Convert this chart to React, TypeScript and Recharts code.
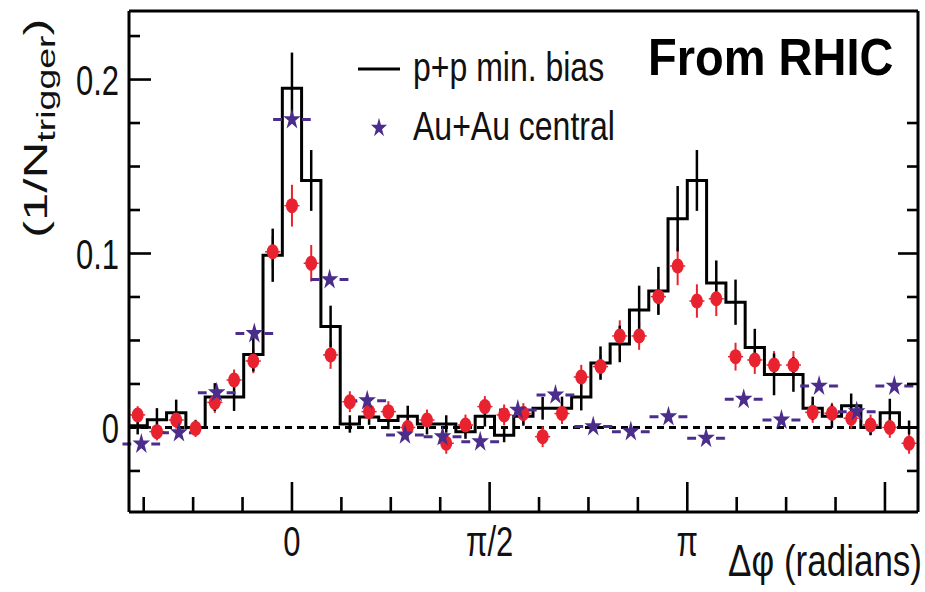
import React from 'react';
import { ComposedChart, Line, Scatter, XAxis, YAxis, ReferenceLine, ErrorBar, Legend, Symbols } from 'recharts';

const FONT = '"Liberation Sans", Arial, Helvetica, sans-serif';
const RED = '#e8232f';
const PURPLE = '#4b2d8c';

const PHI_MIN = -1.295;
const PHI_MAX = 4.975;
const Y_MIN = -0.0486;
const Y_MAX = 0.2394;

// fine binning (41 bins over 2pi), used by p+p and the red points
const ppPhi = [-1.226, -1.073, -0.920, -0.766, -0.613, -0.460, -0.307, -0.153, 0, 0.153, 0.307, 0.460, 0.613, 0.766, 0.920, 1.073, 1.226, 1.379, 1.533, 1.686, 1.839, 1.992, 2.146, 2.299, 2.452, 2.605, 2.759, 2.912, 3.065, 3.218, 3.372, 3.525, 3.678, 3.831, 3.985, 4.138, 4.291, 4.444, 4.598, 4.751, 4.904];
const ppVal = [0.001, 0.0045, 0.0085, 0.0, 0.0175, 0.0175, 0.042, 0.099, 0.195, 0.142, 0.058, 0.002, 0.006, 0.004, 0.0065, 0.002, 0.002, -0.0025, 0.0065, -0.0045, 0.0065, 0.011, 0.011, 0.0175, 0.037, 0.048, 0.0675, 0.0785, 0.120, 0.142, 0.083, 0.072, 0.046, 0.0305, 0.0305, 0.011, 0.0065, 0.0125, 0.0, 0.0085, 0.0];
const ppErr = [0.005, 0.0066, 0.0075, 0.004, 0.008, 0.008, 0.0098, 0.0153, 0.0205, 0.0175, 0.012, 0.005, 0.0045, 0.005, 0.006, 0.006, 0.005, 0.004, 0.006, 0.004, 0.0055, 0.0065, 0.0067, 0.0077, 0.0096, 0.0105, 0.014, 0.0138, 0.0188, 0.0175, 0.013, 0.013, 0.0107, 0.012, 0.01, 0.0067, 0.0067, 0.007, 0.0043, 0.008, 0.004];

const redVal = [0.0072, -0.0024, 0.0043, -0.0005, 0.0144, 0.0273, 0.0382, 0.101, 0.1275, 0.0944, 0.0417, 0.0148, 0.0091, 0.0091, 0.0, 0.0043, -0.0091, 0.0014, 0.012, 0.0072, 0.008, -0.0053, 0.008, 0.029, 0.035, 0.0526, 0.0526, 0.0752, 0.0928, 0.0727, 0.074, 0.0407, 0.0388, 0.0359, 0.0359, 0.0087, 0.0082, 0.0053, 0.0014, 0.0, -0.0091];
const redErr = [0.005, 0.005, 0.005, 0.005, 0.006, 0.006, 0.007, 0.009, 0.012, 0.0105, 0.008, 0.006, 0.006, 0.006, 0.006, 0.006, 0.006, 0.006, 0.006, 0.006, 0.006, 0.006, 0.006, 0.007, 0.007, 0.009, 0.008, 0.01, 0.011, 0.0096, 0.01, 0.008, 0.008, 0.008, 0.008, 0.006, 0.006, 0.006, 0.006, 0.006, 0.006];
const redXerr = 0.06;

// coarse binning (21 bins over 2pi) for Au+Au
const auPhi = [-1.197, -0.898, -0.598, -0.299, 0, 0.299, 0.598, 0.898, 1.197, 1.496, 1.795, 2.094, 2.394, 2.693, 2.992, 3.291, 3.590, 3.890, 4.189, 4.488, 4.787];
const auVal = [-0.0095, -0.003, 0.020, 0.054, 0.177, 0.085, 0.0154, -0.0043, -0.0053, -0.0082, 0.010, 0.0187, 0.0005, -0.0024, 0.0062, -0.0062, 0.0162, 0.0043, 0.0238, 0.0091, 0.0238];
const auXerr = 0.1496;

const xTickSteps = [-3, -2, -1, 0, 1, 2, 3, 4, 5, 6, 7, 8, 9, 10, 11, 12]; // multiples of pi/8
const xTickLabels: Record<number, string> = { 0: '0', 4: 'π/2', 8: 'π' };
const xTicks = xTickSteps.map((n) => (n * Math.PI) / 8);
const yTicks = [-0.025, 0, 0.025, 0.05, 0.075, 0.1, 0.125, 0.15, 0.175, 0.2, 0.225];
const yTickLabels: Record<string, string> = { '0': '0', '0.1': '0.1', '0.2': '0.2' };
const yTicksRight = [-0.025, 0, 0.025, 0.05, 0.075, 0.1, 0.125, 0.15, 0.175];

const legendOrder = ['p+p min. bias', 'Au+Au central'];

const histData = [
  { phi: PHI_MIN, v: ppVal[0] },
  ...ppPhi.map((phi, i) => ({ phi, v: ppVal[i] })),
  { phi: PHI_MAX, v: ppVal[ppVal.length - 1] },
];
const ppPoints = ppPhi.map((phi, i) => ({ phi, v: ppVal[i], err: ppErr[i] }));
const redPoints = ppPhi.map((phi, i) => ({ phi, v: redVal[i], err: redErr[i], xerr: redXerr }));
const auPoints = auPhi.map((phi, i) => ({ phi, v: auVal[i], xerr: auXerr }));

const stepOf = (v: number) => Math.round(v / (Math.PI / 8));

const BottomTick = (props: any) => {
  const { x, y, payload } = props;
  const n = stepOf(payload.value);
  const major = n % 4 === 0;
  const label = xTickLabels[n];
  return (
    <g>
      <line x1={x} y1={y} x2={x} y2={y - (major ? 30 : 15)} stroke="#000" strokeWidth={2.6} />
      {label && (
        <text transform={`translate(${x},${y + 44}) scale(1,1.4)`} textAnchor="middle" fontSize={31} fontFamily={FONT} fill="#111">
          {label}
        </text>
      )}
    </g>
  );
};

const TopTick = (props: any) => {
  const { x, y } = props;
  return <line x1={x} y1={y} x2={x} y2={y - 6} stroke="#000" strokeWidth={2.6} />;
};

const LeftTick = (props: any) => {
  const { x, y, payload } = props;
  const key = String(Math.round(payload.value * 1000) / 1000);
  const label = yTickLabels[key];
  return (
    <g>
      <line x1={x} y1={y} x2={x + (label ? 22 : 11)} y2={y} stroke="#000" strokeWidth={2.6} />
      {label && (
        <text transform={`translate(${x - 10},${y}) scale(1,1.4)`} y={11} textAnchor="end" fontSize={31} fontFamily={FONT} fill="#111">
          {label}
        </text>
      )}
    </g>
  );
};

const RightTick = (props: any) => {
  const { x, y, payload } = props;
  const key = String(Math.round(payload.value * 1000) / 1000);
  const major = !!yTickLabels[key];
  return <line x1={x} y1={y} x2={x - (major ? 20 : 11)} y2={y} stroke="#000" strokeWidth={2.6} />;
};

const RedDot = (p: any) => <ellipse cx={p.cx} cy={p.cy} rx={6} ry={7.5} fill={RED} />;
const StarDot = (p: any) => (
  <g transform={`translate(${p.cx},${p.cy}) scale(1,1.2)`}>
    <Symbols type="star" size={95} cx={0} cy={0} fill={PURPLE} />
  </g>
);
const NoDot = () => <g />;

const renderLegend = (props: any) => {
  const items = (props.payload || [])
    .filter((p: any) => legendOrder.includes(p.value))
    .sort((a: any, b: any) => legendOrder.indexOf(a.value) - legendOrder.indexOf(b.value));
  return (
    <svg width={300} height={120} style={{ overflow: 'visible' }}>
      {items.map((item: any, i: number) => {
        const cy = i === 0 ? 29 : 88;
        return (
          <g key={item.value}>
            {item.type === 'line' ? (
              <line x1={8} y1={cy} x2={50} y2={cy} stroke="#000" strokeWidth={3} />
            ) : (
              <g transform={`translate(29,${cy}) scale(1,1.2)`}>
                <Symbols type="star" size={80} cx={0} cy={0} fill={PURPLE} />
              </g>
            )}
            <text transform={`translate(63,${cy + 12}) scale(1,1.27)`} fontSize={32} fontFamily={FONT} fill="#111">
              {item.value}
            </text>
          </g>
        );
      })}
    </svg>
  );
};

export default function App() {
  return (
    <div style={{ position: 'absolute', left: 0, top: 0, width: 925, height: 592, background: '#fff' }}>
      <ComposedChart width={925} height={592} margin={{ top: 0, right: 0, bottom: 0, left: 0 }}>
        <XAxis
          dataKey="phi"
          type="number"
          domain={[PHI_MIN, PHI_MAX]}
          allowDataOverflow
          ticks={xTicks}
          interval={0}
          height={80}
          tickSize={0}
          tickMargin={0}
          tickLine={false}
          tick={<BottomTick />}
          axisLine={{ stroke: '#000', strokeWidth: 3 }}
        />
        <XAxis
          xAxisId="top"
          orientation="top"
          type="number"
          domain={[PHI_MIN, PHI_MAX]}
          allowDataOverflow
          ticks={xTicks}
          interval={0}
          height={11}
          tickSize={0}
          tickMargin={0}
          tickLine={false}
          tick={<TopTick />}
          axisLine={{ stroke: '#000', strokeWidth: 3 }}
        />
        <YAxis
          type="number"
          domain={[Y_MIN, Y_MAX]}
          allowDataOverflow
          ticks={yTicks}
          interval={0}
          width={129}
          tickSize={0}
          tickMargin={0}
          tickLine={false}
          tick={<LeftTick />}
          axisLine={{ stroke: '#000', strokeWidth: 3 }}
        />
        <YAxis
          yAxisId="right"
          orientation="right"
          type="number"
          domain={[Y_MIN, Y_MAX]}
          allowDataOverflow
          ticks={yTicksRight}
          interval={0}
          width={7}
          tickSize={0}
          tickMargin={0}
          tickLine={false}
          tick={<RightTick />}
          axisLine={{ stroke: '#000', strokeWidth: 3 }}
        />
        <ReferenceLine y={0} stroke="#000" strokeWidth={3} strokeDasharray="7 5" />
        <Scatter data={redPoints} dataKey="v" name="d+Au" legendType="none" shape={RedDot} isAnimationActive={false}>
          <ErrorBar dataKey="err" direction="y" width={0} stroke={RED} strokeWidth={2} />
          <ErrorBar dataKey="xerr" direction="x" width={0} stroke={RED} strokeWidth={1.5} />
        </Scatter>
        <Line
          data={histData}
          dataKey="v"
          name="p+p min. bias"
          type="step"
          stroke="#000"
          strokeWidth={3}
          dot={false}
          activeDot={false}
          legendType="line"
          isAnimationActive={false}
        />
        <Scatter data={ppPoints} dataKey="v" name="p+p errors" legendType="none" shape={NoDot} isAnimationActive={false}>
          <ErrorBar dataKey="err" direction="y" width={0} stroke="#000" strokeWidth={2.5} />
        </Scatter>
        <Scatter data={auPoints} dataKey="v" name="Au+Au central" legendType="star" shape={StarDot} isAnimationActive={false}>
          <ErrorBar dataKey="xerr" direction="x" width={0} stroke={PURPLE} strokeWidth={3} strokeDasharray="8.8 20" />
        </Scatter>
        <Legend
          layout="vertical"
          align="center"
          verticalAlign="middle"
          content={renderLegend}
          wrapperStyle={{ left: 350, top: 40, width: 300, height: 120 }}
        />
        <text transform="translate(47,238) rotate(-90) scale(1.5,1)" fontFamily={FONT} fill="#111">
          <tspan fontSize={34}>(1/N</tspan>
          <tspan fontSize={25} dy={8}>trigger</tspan>
          <tspan fontSize={34} dy={-8}>)</tspan>
        </text>
        <text transform="translate(648,75) scale(1,1.1)" fontFamily={FONT} fontWeight="bold" fontSize={47} fill="#000">
          From RHIC
        </text>
        <text transform="translate(922,576) scale(1,1.27)" textAnchor="end" fontFamily={FONT} fontSize={35} fill="#111">
          Δφ (radians)
        </text>
      </ComposedChart>
    </div>
  );
}
